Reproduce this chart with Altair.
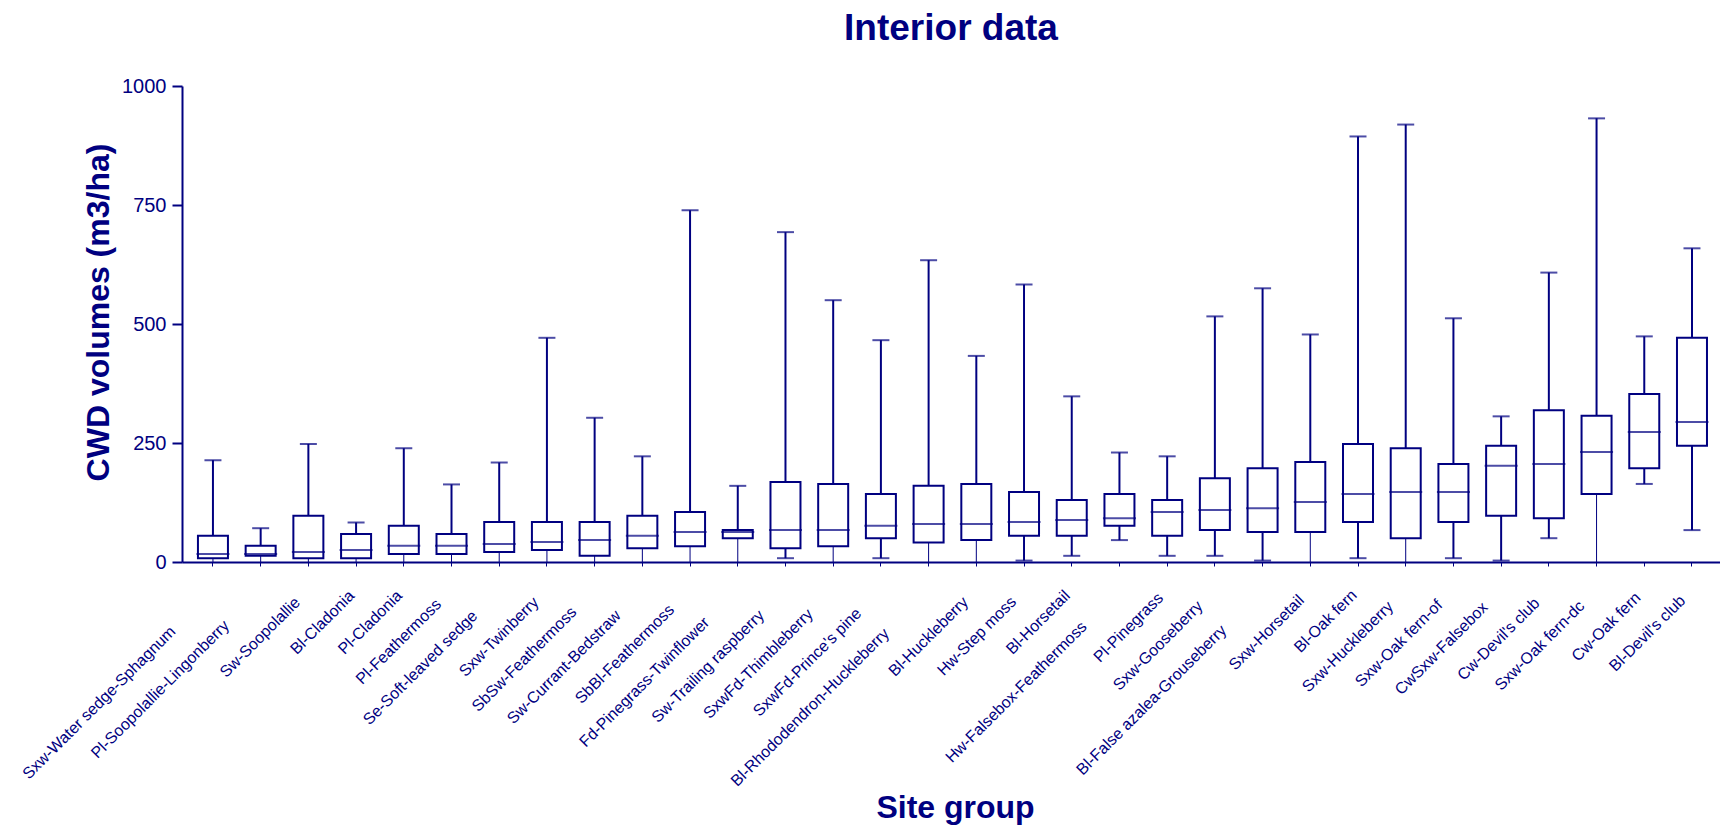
import altair as alt
import pandas as pd

sites = [
    "Sxw-Water sedge-Sphagnum", "Pl-Soopolallie-Lingonberry", "Sw-Soopolallie",
    "Bl-Cladonia", "Pl-Cladonia", "Pl-Feathermoss", "Se-Soft-leaved sedge",
    "Sxw-Twinberry", "SbSw-Feathermoss", "Sw-Currant-Bedstraw", "SbBl-Feathermoss",
    "Fd-Pinegrass-Twinflower", "Sw-Trailing raspberry", "SxwFd-Thimbleberry",
    "SxwFd-Prince's pine", "Bl-Rhododendron-Huckleberry", "Bl-Huckleberry",
    "Hw-Step moss", "Bl-Horsetail", "Hw-Falsebox-Feathermoss", "Pl-Pinegrass",
    "Sxw-Gooseberry", "Bl-False azalea-Grouseberry", "Sxw-Horsetail", "Bl-Oak fern",
    "Sxw-Huckleberry", "Sxw-Oak fern-of", "CwSxw-Falsebox", "Cw-Devil's club",
    "Sxw-Oak fern-dc", "Cw-Oak fern", "Bl-Devil's club",
]
mins = [0, 0, 0, 0, 0, 0, 0, 0, 0, 0, 0, 0, 8, 0, 8, 0, 0, 3, 13, 46, 13, 13,
        3, 0, 8, 0, 8, 3, 50, 0, 164, 67]
q1s = [8, 13, 8, 8, 17, 17, 21, 25, 13, 29, 33, 50, 29, 33, 50, 41, 46, 55, 55,
       76, 55, 67, 63, 63, 84, 50, 84, 97, 92, 143, 197, 244]
medians = [17, 17, 21, 25, 34, 34, 38, 42, 46, 55, 63, 63, 67, 67, 76, 80, 80,
           84, 88, 92, 105, 109, 113, 126, 143, 147, 147, 202, 206, 231, 273, 294]
q3s = [55, 34, 97, 59, 76, 59, 84, 84, 84, 97, 105, 67, 168, 164, 143, 160, 164,
       147, 130, 143, 130, 176, 197, 210, 248, 239, 206, 244, 319, 307, 353, 471]
maxs = [214, 71, 248, 83, 239, 163, 209, 471, 303, 222, 739, 160, 693, 550, 466,
        634, 433, 583, 348, 230, 222, 516, 575, 478, 894, 919, 512, 306, 608, 932,
        474, 659]

NAVY = "#000080"
FONT = "Liberation Sans, Arial, sans-serif"
W, H = 1538, 476
N = len(sites)
P_OUTER, ALIGN = 0.118, 0.63
LABEL_SIZE = 16

# approximate Arial advance widths (per 1000 em) for label layout
ARIAL = dict(zip("ABCDEFGHIJKLMNOPQRSTUVWXYZ",
                 [667, 667, 722, 722, 667, 611, 778, 722, 278, 500, 667, 556, 833,
                  722, 778, 667, 778, 722, 667, 611, 722, 667, 944, 667, 667, 611]))
ARIAL.update(dict(zip("abcdefghijklmnopqrstuvwxyz",
                      [556, 556, 500, 556, 556, 278, 556, 556, 222, 222, 500, 222, 833,
                       556, 556, 556, 556, 333, 500, 278, 556, 500, 722, 500, 500, 500])))
ARIAL.update({" ": 278, "-": 333, "'": 191})


def text_len(s, size):
    return sum(ARIAL.get(c, 556) for c in s) * size / 1000.0


df = pd.DataFrame({"site": sites, "min": mins, "q1": q1s, "median": medians,
                   "q3": q3s, "max": maxs})
step = W / (N + 2 * P_OUTER)
df["L"] = [text_len(s, LABEL_SIZE) for s in sites]
df["lx"] = step / 2 + 22.6 - 0.283 * df["L"]
df["ly"] = H + 11.4 + 0.283 * df["L"]

xscale = alt.Scale(paddingInner=0, paddingOuter=P_OUTER, align=ALIGN)
xaxis = alt.Axis(labels=False, ticks=True, tickSize=4, tickWidth=1, tickColor=NAVY,
                 domainColor=NAVY, domainWidth=2, title="Site group",
                 titleColor=NAVY, titleFont=FONT, titleFontSize=32,
                 titleFontWeight="bold", titleX=W / 2 + 4, titleY=255,
                 titleAlign="center", titleBaseline="alphabetic")
yscale = alt.Scale(domain=[0, 1000], nice=False, zero=True)
YT = "CWD volumes (m3/ha)"
yaxis = alt.Axis(values=[0, 250, 500, 750, 1000], format="d", grid=False,
                 domainColor=NAVY, domainWidth=2, tickColor=NAVY, tickWidth=2,
                 tickSize=10, labelColor=NAVY, labelFont=FONT, labelFontSize=20,
                 labelPadding=6, title=YT, titleColor=NAVY, titleFont=FONT,
                 titleFontSize=32, titleFontWeight="bold", titleX=-84, titleY=226,
                 titleAngle=270, titleAlign="center", titleBaseline="middle")

base = alt.Chart(df).encode(x=alt.X("site:N", sort=sites, scale=xscale, axis=xaxis))

upper = base.mark_rule(color=NAVY, strokeWidth=2).encode(
    y=alt.Y("q3:Q", scale=yscale, axis=yaxis, title=YT), y2="max:Q")
lower = base.mark_rule(color=NAVY).encode(
    y=alt.Y("min:Q", scale=yscale, title=YT), y2="q1:Q",
    strokeWidth=alt.condition("datum.min <= 0", alt.value(1), alt.value(2)))
box = base.mark_bar(size=30, fill="white", stroke=NAVY, strokeWidth=2).encode(
    y=alt.Y("q1:Q", scale=yscale, title=YT), y2="q3:Q")
cap_max = base.mark_tick(color=NAVY, size=17, thickness=2).encode(
    y=alt.Y("max:Q", scale=yscale, title=YT))
cap_min = base.transform_filter("datum.min > 0").mark_tick(
    color=NAVY, size=17, thickness=2).encode(y=alt.Y("min:Q", scale=yscale, title=YT))
med = base.mark_tick(color=NAVY, size=33, thickness=2).encode(
    y=alt.Y("median:Q", scale=yscale, title=YT))

plot = alt.layer(upper, lower, box, cap_max, cap_min, med)

labels = alt.Chart(df).mark_text(
    angle=315, align="right", baseline="alphabetic", font=FONT,
    fontSize=LABEL_SIZE, color=NAVY).encode(
    x=alt.X("site:N", sort=sites, scale=xscale, axis=xaxis),
    xOffset=alt.XOffset("lx:Q", scale=alt.Scale(domain=[-300, 300], range=[-300, 300])),
    y=alt.Y("ly:Q", scale=alt.Scale(domain=[0, 1000], range=[0, 1000]), axis=None),
    text="site:N")

chart = alt.layer(plot, labels).resolve_scale(y="independent").properties(
    width=W, height=H,
    title=alt.Title("Interior data", font=FONT, fontSize=37, fontWeight="bold",
                    color=NAVY, anchor="middle", baseline="alphabetic", offset=-1),
    autosize=alt.AutoSizeParams(type="none"),
    padding={"left": 174, "top": 78, "right": 0, "bottom": 264},
    background="white",
).configure_view(stroke=None)

chart.save("out.html", embed_options={"renderer": "svg", "actions": False})
